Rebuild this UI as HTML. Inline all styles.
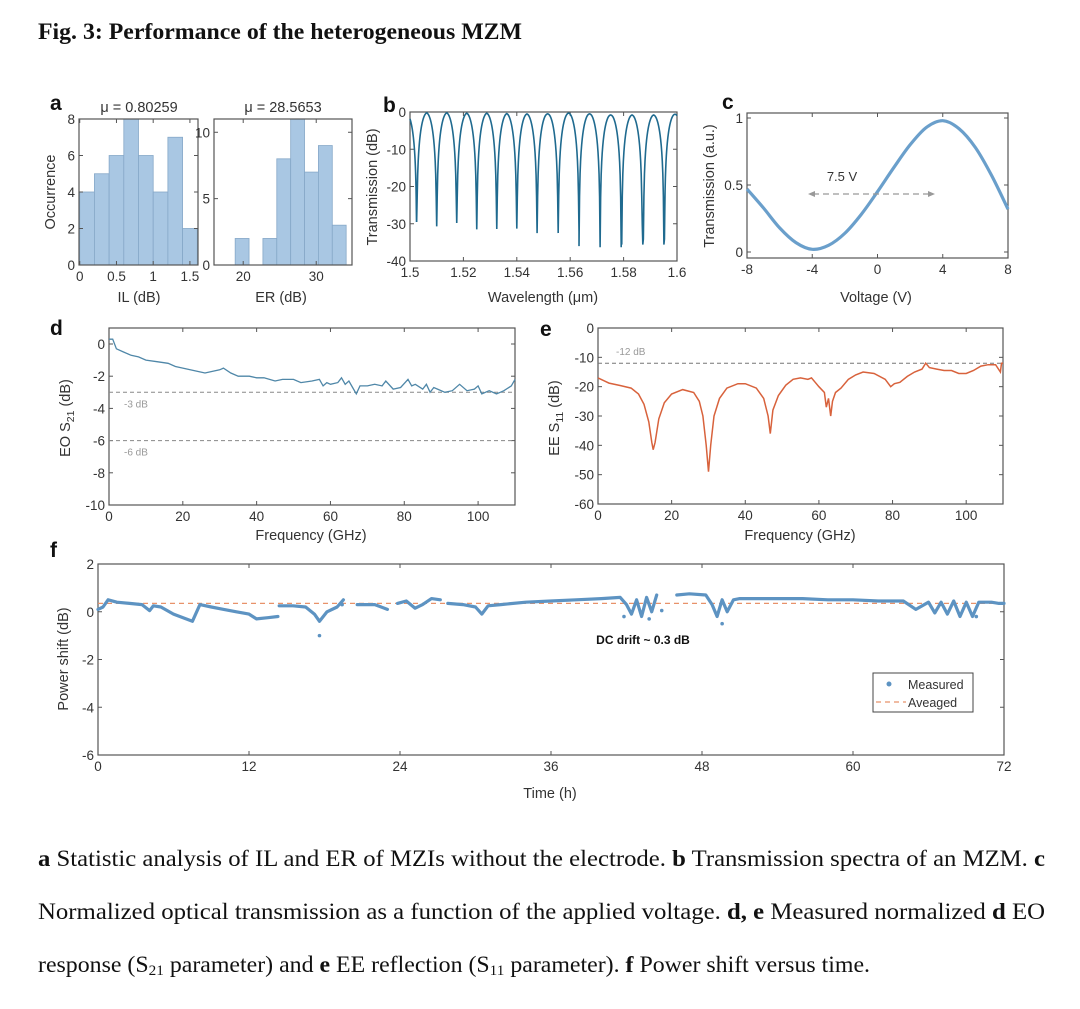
<!DOCTYPE html>
<html><head><meta charset="utf-8">
<style>
html,body{margin:0;padding:0;background:#fff;}
body{width:1080px;height:1009px;overflow:hidden;position:relative;}
svg{position:absolute;left:0;top:0;}
text{font-family:"Liberation Sans",sans-serif;fill:#333;}
.cap{font-family:"Liberation Serif",serif;fill:#111;font-size:23.5px;}
</style></head>
<body>
<svg id="fig" width="1080" height="1009" viewBox="0 0 1080 1009">
<text class="cap" x="38" y="39" font-weight="bold" textLength="484" lengthAdjust="spacingAndGlyphs">Fig. 3: Performance of the heterogeneous MZM</text>
<text class="cap" x="38" y="866" textLength="1007" lengthAdjust="spacingAndGlyphs"><tspan font-weight="bold">a</tspan> Statistic analysis of IL and ER of MZIs without the electrode. <tspan font-weight="bold">b</tspan> Transmission spectra of an MZM. <tspan font-weight="bold">c</tspan></text>
<text class="cap" x="38" y="919" textLength="1007" lengthAdjust="spacingAndGlyphs">Normalized optical transmission as a function of the applied voltage. <tspan font-weight="bold">d, e</tspan> Measured normalized <tspan font-weight="bold">d</tspan> EO</text>
<text class="cap" x="38" y="972" textLength="832" lengthAdjust="spacingAndGlyphs">response (S<tspan font-size="15" dy="3">21</tspan><tspan dy="-3"> parameter) and </tspan><tspan font-weight="bold">e</tspan> EE reflection (S<tspan font-size="15" dy="3">11</tspan><tspan dy="-3"> parameter). </tspan><tspan font-weight="bold">f</tspan> Power shift versus time.</text>
</svg>
<script>
// ---------- data ----------
const ilBinStart = [0,0.2,0.4,0.6,0.8,1.0,1.2,1.4];
const ilCounts = [4,5,6,8,6,4,7,2];
const erBinStart = [18.9,20.8,22.7,24.6,26.5,28.4,30.3,32.2];
const erCounts = [2,0,2,8,11,7,9,3];
const dipWavelengths = [1.5025,1.5100,1.5175,1.5250,1.5325,1.5400,1.5476,1.5555,1.5633,1.5712,1.5791,1.5872,1.5953];
const dipDepths = [-29,-30.5,-29.5,-31.2,-31,-30.8,-32,-31.8,-31.8,-35.5,-29.5,-34.8,-33.3];
const peakLevels = [-0.3,-0.2,-0.2,-0.3,-0.3,-0.4,-0.5,-0.5,-0.3,-0.5,-0.8,-0.8,-0.8,-0.6];
const voltages = [-8,-7,-6,-5,-4,-3,-2,-1,0,1,2,3,4,5,6,7,8];
const transmission = [0.47,0.33,0.18,0.07,0.02,0.05,0.14,0.28,0.45,0.63,0.80,0.93,0.98,0.92,0.78,0.57,0.32];
const s21Freq = [0,1,2,4,6,8,10,13,16,18,20,22,24,26,28,30,31,33,35,38,40,42,45,47,50,52,55,57,58,59,60,62,63,64,65,66,67,68,70,72,74,75,77,79,81,82,83,85,86,87,88,89,91,93,95,97,99,100,101,103,105,106,107,109,110];
const s21Val = [0.3,0.3,-0.3,-0.5,-0.7,-0.8,-1.0,-1.1,-1.2,-1.4,-1.5,-1.6,-1.7,-1.8,-1.7,-1.6,-1.5,-1.8,-2.0,-2.0,-2.1,-2.1,-2.3,-2.2,-2.2,-2.4,-2.3,-2.2,-2.6,-2.4,-2.5,-2.4,-2.1,-2.5,-2.3,-2.7,-3.1,-2.6,-2.6,-2.5,-2.6,-2.3,-2.8,-2.7,-2.2,-2.6,-2.5,-2.8,-2.5,-3.0,-2.7,-2.8,-3.0,-2.9,-2.5,-2.9,-2.8,-2.6,-3.1,-2.9,-3.1,-3.0,-2.9,-2.6,-2.2];
const s11Freq = [0,3,6,9,11,12.5,13.8,14.6,15,15.5,16.5,18,20,23,26,27.5,28.5,29.4,30,30.6,31.5,33,35,38,40,43,45,46.2,46.8,47.5,49,51,53,55,57,58,59,60,61.5,62,62.6,63.2,63.7,64.5,66,68,70,72,75,78,79.5,80.5,82,84,86,88,89,90,92,94,96,98,100,102,104,106,108,109.3,109.6,110];
const s11Val = [-17,-18.8,-19.6,-20.5,-22.5,-26,-32,-39,-41.5,-39,-31,-25.5,-22.5,-21,-22,-25,-30,-40,-49,-40,-30,-24,-20.5,-19,-19,-20.5,-24,-30,-36,-28,-23,-19.5,-17.5,-17,-17.5,-17,-18.5,-20,-22,-27,-24,-30,-25,-22,-20.5,-17.5,-16,-15,-15.5,-17.5,-20,-19,-18.5,-16.5,-15,-14,-12,-13.5,-14,-14.5,-14.5,-15.5,-15.5,-14.5,-13,-12.5,-12.5,-15,-12,-12];
const driftTimes = [0,0.4,0.8,1.5,2.5,3.5,4.1,4.4,5,6,7,7.5,8.1,9,10,11,12,12.6,13.5,14.3,null,14.4,15.5,16.5,17.2,17.6,18.2,19,19.5,null,20.6,22,23,null,23.8,24.5,25.2,25.8,26.5,27.2,null,27.8,29,30,30.5,31,32,34,36,38,40,41.5,42,42.4,42.8,43.2,43.6,44,44.4,null,46,47,48.3,48.8,49.2,49.6,50,50.5,51,52,54,56,58,60,62,64,65,66,66.5,67,67.5,68,68.5,69,69.5,70,71,71.6,72];
const driftVals = [0.1,0.2,0.5,0.4,0.35,0.3,0.05,0.25,0.2,-0.1,-0.3,-0.4,0.3,0.2,0.1,0.0,-0.1,-0.3,-0.25,-0.2,null,0.25,0.25,0.2,-0.1,-0.4,0.0,0.2,0.5,null,0.3,0.3,0.1,null,0.35,0.45,0.15,0.3,0.55,0.5,null,0.35,0.3,0.2,-0.1,0.25,0.3,0.4,0.45,0.5,0.55,0.6,0.3,-0.1,0.5,-0.2,0.6,0.0,0.7,null,0.7,0.75,0.7,0.3,-0.2,0.5,0.0,0.5,0.55,0.55,0.55,0.55,0.5,0.5,0.45,0.45,0.1,0.4,-0.05,0.4,-0.1,0.45,-0.2,0.4,-0.2,0.4,0.4,0.35,0.35];
const driftOutlierT = [17.6,19.4,41.8,43.8,44.8,49.6,69.8];
const driftOutlierV = [-1.0,0.3,-0.2,-0.3,0.05,-0.5,-0.2];
const driftAverage = 0.35;

// ---------- helpers ----------
const NS='http://www.w3.org/2000/svg';
const svg=document.getElementById('fig');
function mk(tag,attrs,parent){const e=document.createElementNS(NS,tag);for(const k in attrs)e.setAttribute(k,attrs[k]);(parent||svg).appendChild(e);return e;}
function lin(d0,d1,r0,r1){return v=>r0+(v-d0)/(d1-d0)*(r1-r0);}
function txt(s,x,y,size,anchor,parent){const t=mk('text',{x:x,y:y,'font-size':size,'text-anchor':anchor||'middle'},parent);t.textContent=s;return t;}
const TF=13.5, AF=14.5;

function axes(name,box,xs,ys,xt,yt,xlab,ylab,fs){
  const g=mk('g',{});
  
  
  const tl=4;
  xt.forEach(v=>{const x=xs(v);
    mk('line',{x1:x,x2:x,y1:box.y1,y2:box.y1-tl,stroke:'#555','stroke-width':1},g);
    mk('line',{x1:x,x2:x,y1:box.y0,y2:box.y0+tl,stroke:'#555','stroke-width':1},g);
    const t=txt(xlab(v),x,box.y1+16,fs,'middle',g);
    
    
  });
  yt.forEach(v=>{const y=ys(v);
    mk('line',{x1:box.x0,x2:box.x0+tl,y1:y,y2:y,stroke:'#555','stroke-width':1},g);
    mk('line',{x1:box.x1,x2:box.x1-tl,y1:y,y2:y,stroke:'#555','stroke-width':1},g);
    const t=txt(ylab(v),box.x0-4,y+5,fs,'end',g);
    
    
  });
  mk('rect',{x:box.x0,y:box.y0,width:box.x1-box.x0,height:box.y1-box.y0,fill:'none',stroke:'#555','stroke-width':1.2},g);
  return g;
}
function pathFrom(xsArr,ysArr,xs,ys){let d='',pen=false;for(let i=0;i<xsArr.length;i++){if(xsArr[i]===null){pen=false;continue;}d+=(pen?'L':'M')+xs(xsArr[i]).toFixed(1)+','+ys(ysArr[i]).toFixed(1);pen=true;}return d;}
function smooth(xa,ya,xs,ys){
  const P=xa.map((x,i)=>[xs(x),ys(ya[i])]);let d='M'+P[0][0]+','+P[0][1];
  for(let i=0;i<P.length-1;i++){const p0=P[Math.max(0,i-1)],p1=P[i],p2=P[i+1],p3=P[Math.min(P.length-1,i+2)];
    d+='C'+(p1[0]+(p2[0]-p0[0])/6)+','+(p1[1]+(p2[1]-p0[1])/6)+' '+(p2[0]-(p3[0]-p1[0])/6)+','+(p2[1]-(p3[1]-p1[1])/6)+' '+p2[0]+','+p2[1];}
  return d;}

// ---------- panel a (IL) ----------
{const box={x0:79,x1:198,y0:119,y1:265};
 const xs=lin(-0.01,1.61,box.x0,box.x1), ys=lin(0,8,box.y1,box.y0);
 const g=mk('g',{});
 
 
 ilBinStart.forEach((b,i)=>{const r=mk('rect',{x:xs(b),y:ys(ilCounts[i]),width:xs(b+0.2)-xs(b),height:ys(0)-ys(ilCounts[i]),fill:'#a9c7e3',stroke:'#86a8c8','stroke-width':0.8},g);
   
   });
 axes('il',box,xs,ys,[0,0.5,1,1.5],[0,2,4,6,8],v=>String(v),v=>String(v),TF);
 let t=txt('IL (dB)',139,302,AF);
 
 
 t=txt('Occurrence',0,0,AF);t.setAttribute('transform','translate(55,192) rotate(-90)');
 
 
 t=txt('\u03bc = 0.80259',139,112,AF);
 
 
 t=txt('a',50,110,21,'start');t.setAttribute('font-weight','bold');t.setAttribute('style','fill:#111');
 
 
}
// ---------- panel a (ER) ----------
{const box={x0:214,x1:352,y0:119,y1:265};
 const xs=lin(16,34.9,box.x0,box.x1), ys=lin(0,11,box.y1,box.y0);
 const g=mk('g',{});
 
 
 erBinStart.forEach((b,i)=>{if(!erCounts[i])return;const r=mk('rect',{x:xs(b),y:ys(erCounts[i]),width:xs(b+1.9)-xs(b),height:ys(0)-ys(erCounts[i]),fill:'#a9c7e3',stroke:'#86a8c8','stroke-width':0.8},g);
   
   });
 axes('er',box,xs,ys,[20,30],[0,5,10],v=>String(v),v=>String(v),TF);
 let t=txt('ER (dB)',281,302,AF);
 
 
 t=txt('\u03bc = 28.5653',283,112,AF);
 
 
}
// ---------- panel b ----------
{const box={x0:410,x1:677,y0:112,y1:261};
 const xs=lin(1.5,1.6,box.x0,box.x1), ys=lin(-40,0,box.y1,box.y0);
 const edges=[1.5].concat(dipWavelengths).concat([1.6]);
 let d='';
 for(let k=0;k<edges.length-1;k++){
   const a=edges[k],b=edges[k+1],pk=peakLevels[k];
   const da=k>0?dipDepths[k-1]:-3, db=k<dipWavelengths.length?dipDepths[k]:-1;
   const fsr=0.0079;
   for(let i=0;i<=40;i++){const w=a+(b-a)*i/40;
     const ea=Math.max(Math.pow(10,da/10),Math.pow(Math.sin(Math.PI*(w-a)/fsr),2));
     const eb=Math.max(Math.pow(10,db/10),Math.pow(Math.sin(Math.PI*(b-w)/fsr),2));
     let v=pk+10*Math.log10(Math.min(1,k===0?eb:(k===edges.length-2?ea:Math.min(ea,eb))));
     if(k===0&&w<1.5005)v=Math.min(v,-1.5);
     d+=(d?'L':'M')+xs(w).toFixed(2)+','+ys(v).toFixed(2);}
 }
 axes('spectrum',box,xs,ys,[1.5,1.52,1.54,1.56,1.58,1.6],[-40,-30,-20,-10,0],v=>String(+v.toFixed(2)),v=>String(v),TF);
 const p=mk('path',{d:d,fill:'none',stroke:'#1f6a8f','stroke-width':1.6});
 
 
 let t=txt('Wavelength (\u03bcm)',543,302,AF);
 
 
 t=txt('Transmission (dB)',0,0,AF);t.setAttribute('transform','translate(377,187) rotate(-90)');
 
 
 t=txt('b',383,112,21,'start');t.setAttribute('font-weight','bold');t.setAttribute('style','fill:#111');
 
 
}
// ---------- panel c ----------
{const box={x0:747,x1:1008,y0:113,y1:258};
 const xs=lin(-8,8,box.x0,box.x1), ys=lin(0,1,252,118);
 axes('voltage',box,xs,ys,[-8,-4,0,4,8],[0,0.5,1],v=>String(v),v=>String(v),TF);
 const p=mk('path',{d:smooth(voltages,transmission,xs,ys),fill:'none',stroke:'#6a9fcb','stroke-width':3.2});
 
 
 const ar=mk('line',{x1:813,x2:930,y1:194,y2:194,stroke:'#999','stroke-width':1.2,'stroke-dasharray':'6 4'});
 
 
 mk('path',{d:'M808,194 l7,-3 v6 z M935,194 l-7,-3 v6 z',fill:'#999'});
 let t=txt('7.5 V',842,181,13);
 
 
 t=txt('Voltage (V)',876,302,AF);
 
 
 t=txt('Transmission (a.u.)',0,0,AF);t.setAttribute('transform','translate(714,186) rotate(-90)');
 
 
 t=txt('c',722,109,21,'start');t.setAttribute('font-weight','bold');t.setAttribute('style','fill:#111');
 
 
}
// ---------- panel d ----------
{const box={x0:109,x1:515,y0:328,y1:505};
 const xs=lin(0,110,box.x0,box.x1), ys=lin(-10,0,505,344);
 axes('eo',box,xs,ys,[0,20,40,60,80,100],[-10,-8,-6,-4,-2,0],v=>String(v),v=>String(v),TF);
 [-3,-6].forEach(v=>{const l=mk('line',{x1:box.x0,x2:box.x1,y1:ys(v),y2:ys(v),stroke:'#888','stroke-width':1,'stroke-dasharray':'4 3'});
   
   
   const t=txt(v+' dB',124,ys(v)+15,10,'start');t.setAttribute('style','fill:#999');
   
   });
 const p=mk('path',{d:pathFrom(s21Freq,s21Val,xs,ys),fill:'none',stroke:'#4f87a8','stroke-width':1.3});
 
 
 let t=txt('Frequency (GHz)',311,540,AF);
 
 
 t=mk('text',{'font-size':AF,'text-anchor':'middle',transform:'translate(70,418) rotate(-90)'});
 t.innerHTML='EO S<tspan font-size="10.5" dy="4">21</tspan><tspan dy="-4"> (dB)</tspan>';
 
 
 t=txt('d',50,335,21,'start');t.setAttribute('font-weight','bold');t.setAttribute('style','fill:#111');
 
 
}
// ---------- panel e ----------
{const box={x0:598,x1:1003,y0:328,y1:504};
 const xs=lin(0,110,box.x0,box.x1), ys=lin(-60,0,box.y1,box.y0);
 axes('ee',box,xs,ys,[0,20,40,60,80,100],[-60,-50,-40,-30,-20,-10,0],v=>String(v),v=>String(v),TF);
 const l=mk('line',{x1:box.x0,x2:box.x1,y1:ys(-12),y2:ys(-12),stroke:'#777','stroke-width':1,'stroke-dasharray':'4 3'});
 
 
 let t=txt('-12 dB',616,355,10,'start');t.setAttribute('style','fill:#999');
 
 
 const p=mk('path',{d:pathFrom(s11Freq,s11Val,xs,ys),fill:'none',stroke:'#d8623c','stroke-width':1.5});
 
 
 t=txt('Frequency (GHz)',800,540,AF);
 
 
 t=mk('text',{'font-size':AF,'text-anchor':'middle',transform:'translate(559,418) rotate(-90)'});
 t.innerHTML='EE S<tspan font-size="10.5" dy="4">11</tspan><tspan dy="-4"> (dB)</tspan>';
 
 
 t=txt('e',540,336,21,'start');t.setAttribute('font-weight','bold');t.setAttribute('style','fill:#111');
 
 
}
// ---------- panel f ----------
{const box={x0:98,x1:1004,y0:564,y1:755};
 const xs=lin(0,72,box.x0,box.x1), ys=lin(-6,2,box.y1,box.y0);
 axes('drift',box,xs,ys,[0,12,24,36,48,60,72],[-6,-4,-2,0,2],v=>String(v),v=>String(v),TF);
 const av=mk('line',{x1:box.x0,x2:box.x1,y1:ys(driftAverage),y2:ys(driftAverage),stroke:'#e8926a','stroke-width':1.3,'stroke-dasharray':'5 4'});
 
 
 const p=mk('path',{d:pathFrom(driftTimes,driftVals,xs,ys),fill:'none',stroke:'#5d93c2','stroke-width':3.2,'stroke-linejoin':'round','stroke-linecap':'round'});
 
 
 driftOutlierT.forEach((tt,i)=>{const c=mk('circle',{cx:xs(tt),cy:ys(driftOutlierV[i]),r:1.8,fill:'#5d93c2'});
   
   });
 let t=txt('DC drift ~ 0.3 dB',643,644,12);t.setAttribute('font-weight','bold');t.setAttribute('style','fill:#111');
 
 
 const lg=mk('g',{});
 
 
 mk('rect',{x:873,y:673,width:100,height:39,fill:'#fff',stroke:'#444','stroke-width':1},lg);
 mk('circle',{cx:889,cy:684,r:2.5,fill:'#5d93c2'},lg);
 mk('line',{x1:876,x2:906,y1:702,y2:702,stroke:'#e8926a','stroke-width':1.3,'stroke-dasharray':'5 4'},lg);
 t=txt('Measured',908,689,12.5,'start',lg);
 
 
 t=txt('Aveaged',908,707,12.5,'start',lg);
 
 
 t=txt('Time (h)',550,798,AF);
 
 
 t=txt('Power shift (dB)',0,0,AF);t.setAttribute('transform','translate(68,659) rotate(-90)');
 
 
 t=txt('f',50,557,21,'start');t.setAttribute('font-weight','bold');t.setAttribute('style','fill:#111');
 
 
}
</script>
</body></html>
